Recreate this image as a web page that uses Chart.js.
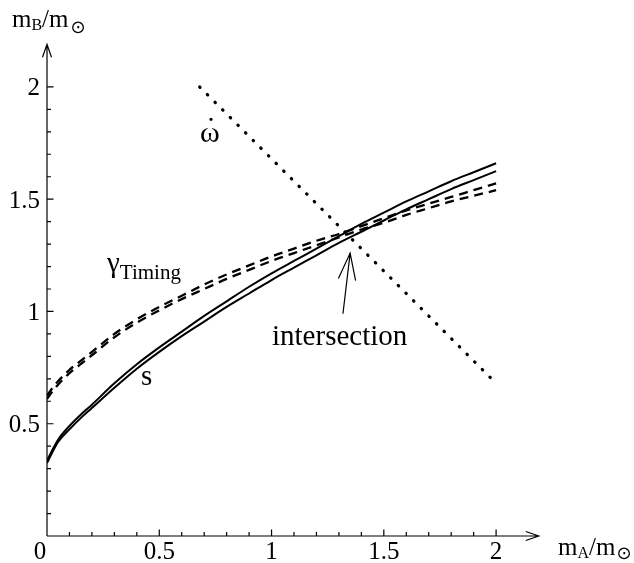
<!DOCTYPE html>
<html><head><meta charset="utf-8">
<script src="https://cdn.jsdelivr.net/npm/chart.js@4"></script>
<style>html,body{margin:0;padding:0;background:#fff;}#wrap{width:634px;height:563px;}</style>
</head><body><div id="wrap"><canvas id="c" width="634" height="563"></canvas></div>
<script>
// ---- data ----
const massA = [0, 0.025, 0.05, 0.1, 0.15, 0.2, 0.3, 0.4, 0.5, 0.6, 0.7, 0.8, 0.9, 1.0, 1.1, 1.2, 1.3, 1.4, 1.5, 1.6, 1.7, 1.8, 1.9, 2.0];
const sUpper = [0.335, 0.385, 0.43, 0.49, 0.54, 0.585, 0.68, 0.765, 0.84, 0.91, 0.98, 1.045, 1.11, 1.17, 1.225, 1.28, 1.335, 1.39, 1.44, 1.49, 1.535, 1.58, 1.62, 1.66];
const sLower = [0.325, 0.375, 0.42, 0.475, 0.525, 0.57, 0.66, 0.745, 0.82, 0.89, 0.955, 1.02, 1.08, 1.14, 1.195, 1.25, 1.305, 1.355, 1.405, 1.455, 1.50, 1.545, 1.585, 1.625];
const gammaUpper = [0.625, 0.66, 0.69, 0.74, 0.78, 0.82, 0.90, 0.965, 1.02, 1.07, 1.12, 1.165, 1.205, 1.245, 1.28, 1.315, 1.345, 1.38, 1.415, 1.45, 1.48, 1.51, 1.54, 1.57];
const gammaLower = [0.61, 0.645, 0.675, 0.725, 0.765, 0.805, 0.885, 0.95, 1.005, 1.055, 1.10, 1.145, 1.185, 1.225, 1.26, 1.295, 1.33, 1.365, 1.395, 1.43, 1.46, 1.49, 1.515, 1.54];
const omegaA = [0.68, 2.0];
const omegaB = [2.0, 0.68];
const xTickValues = [0, 0.5, 1, 1.5, 2];
const xTickLabels = ['0', '0.5', '1', '1.5', '2'];
const yTickValues = [0.5, 1, 1.5, 2];
const yTickLabels = ['0.5', '1', '1.5', '2'];
const arrowTail = [1.318, 0.99];
const arrowTip = [1.35, 1.26];

const pts = (xs, ys) => xs.map((x, i) => ({x: x, y: ys[i]}));
const SERIF = '"Liberation Serif", "Times New Roman", serif';

function drawParts(ctx, x, base, parts) {
  parts.forEach(p => {
    ctx.font = p.size + 'px ' + (p.font || SERIF);
    ctx.fillText(p.t, x, base + (p.dy || 0));
    x += ctx.measureText(p.t).width + (p.gap || 0);
  });
}

const axesPlugin = {
  id: 'axesPlugin',
  afterDraw(chart) {
    const ctx = chart.ctx, xs = chart.scales.x, ys = chart.scales.y;
    const x0 = xs.getPixelForValue(0), y0 = ys.getPixelForValue(0);
    const yTop = ys.getPixelForValue(2.19), xRight = xs.getPixelForValue(2.19);
    ctx.save();
    ctx.strokeStyle = '#000'; ctx.fillStyle = '#000';
    ctx.lineWidth = 1.2; ctx.setLineDash([]);
    ctx.beginPath();
    ctx.moveTo(x0, y0); ctx.lineTo(x0, yTop);
    ctx.moveTo(x0, y0); ctx.lineTo(xRight, y0);
    // arrowheads
    ctx.moveTo(x0 - 4.5, yTop + 13); ctx.lineTo(x0, yTop); ctx.lineTo(x0 + 4.5, yTop + 13);
    ctx.moveTo(xRight - 13, y0 - 4.5); ctx.lineTo(xRight, y0); ctx.lineTo(xRight - 13, y0 + 4.5);
    // ticks
    for (let i = 1; i <= 20; i++) {
      const v = i / 10, len = (i % 5 === 0) ? 6.5 : 4;
      const py = ys.getPixelForValue(v), px = xs.getPixelForValue(v);
      ctx.moveTo(x0, py); ctx.lineTo(x0 + len, py);
      ctx.moveTo(px, y0); ctx.lineTo(px, y0 - len);
    }
    ctx.stroke();
    // tick labels
    ctx.font = '25px ' + SERIF;
    ctx.textAlign = 'right'; ctx.textBaseline = 'alphabetic';
    yTickValues.forEach((v, i) => ctx.fillText(yTickLabels[i], x0 - 7, ys.getPixelForValue(v) + 8.5));
    ctx.textAlign = 'center';
    xTickValues.forEach((v, i) => {
      const px = v === 0 ? x0 - 7 : xs.getPixelForValue(v);
      ctx.fillText(xTickLabels[i], px, 559);
    });
    // axis titles
    ctx.textAlign = 'left';
    drawParts(ctx, 12, 27, [
      {t: 'm', size: 25}, {t: 'B', size: 16, dy: 3}, {t: '/m', size: 25, gap: 2},
      {t: '\u2299', size: 18, dy: 6, font: '"DejaVu Sans", sans-serif'}
    ]);
    drawParts(ctx, 558, 555, [
      {t: 'm', size: 25}, {t: 'A', size: 16, dy: 3}, {t: '/m', size: 25, gap: 1},
      {t: '\u2299', size: 18, dy: 4, font: '"DejaVu Sans", sans-serif'}
    ]);
    // curve labels
    ctx.font = '30px ' + SERIF;
    ctx.fillText('\u03C9', 200, 142);
    ctx.textAlign = 'center';
    ctx.fillText('\u02D9', 211, 138);
    ctx.textAlign = 'left';
    drawParts(ctx, 107, 272, [{t: '\u03B3', size: 29}, {t: 'Timing', size: 21, dy: 7}]);
    ctx.font = '29px ' + SERIF;
    ctx.fillText('s', 141, 385);
    ctx.fillText('intersection', 272, 345);
    // arrow
    const tx = xs.getPixelForValue(arrowTail[0]), ty = ys.getPixelForValue(arrowTail[1]);
    const hx = xs.getPixelForValue(arrowTip[0]), hy = ys.getPixelForValue(arrowTip[1]);
    const ang = Math.atan2(ty - hy, tx - hx), L = 28, a = 18 * Math.PI / 180;
    ctx.lineWidth = 1.2;
    ctx.beginPath();
    ctx.moveTo(tx, ty); ctx.lineTo(hx, hy);
    ctx.moveTo(hx + L * Math.cos(ang - a), hy + L * Math.sin(ang - a));
    ctx.lineTo(hx, hy);
    ctx.lineTo(hx + L * Math.cos(ang + a), hy + L * Math.sin(ang + a));
    ctx.stroke();
    ctx.restore();
  }
};

const solidStyle = {borderColor: '#000', borderWidth: 2, pointRadius: 0, showLine: true, fill: false, cubicInterpolationMode: 'monotone'};
const dashStyle = Object.assign({}, solidStyle, {borderWidth: 2.3, borderDash: [9, 6]});

new Chart(document.getElementById('c'), {
  type: 'scatter',
  data: {
    datasets: [
      Object.assign({label: 's (upper)', data: pts(massA, sUpper)}, solidStyle),
      Object.assign({label: 's (lower)', data: pts(massA, sLower)}, solidStyle),
      Object.assign({label: 'gamma timing (upper)', data: pts(massA, gammaUpper)}, dashStyle),
      Object.assign({label: 'gamma timing (lower)', data: pts(massA, gammaLower)}, dashStyle),
      {label: 'omega dot', data: pts(omegaA, omegaB), showLine: true, pointRadius: 0, borderColor: '#000',
       borderWidth: 3.2, borderDash: [0.5, 10.3], borderCapStyle: 'round', fill: false}
    ]
  },
  options: {
    responsive: false, animation: false,
    layout: {padding: {left: 47, top: 42, right: 93, bottom: 27}},
    scales: {
      x: {type: 'linear', min: 0, max: 2.2, display: false},
      y: {type: 'linear', min: 0, max: 2.2, display: false}
    },
    plugins: {legend: {display: false}, tooltip: {enabled: false}}
  },
  plugins: [axesPlugin]
});
</script></body></html>
